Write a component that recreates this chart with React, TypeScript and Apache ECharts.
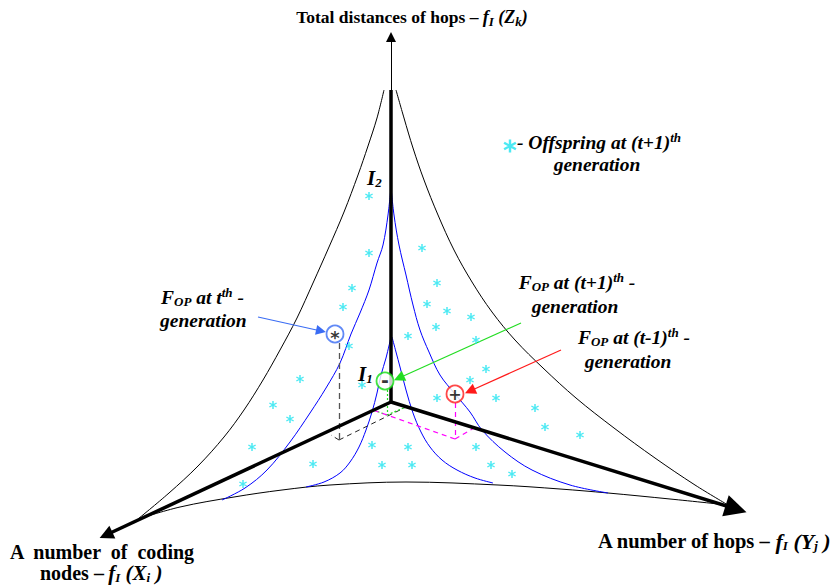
import React, { useEffect, useRef } from "react";
import * as echarts from "echarts";

const SERIF = "Liberation Serif";

// ---- straight axis segments of the 3-objective space (diagram units = px-like, y downwards)
const axisUpThick = [[391, 402], [391, 90]];
const axisUpThin = [[391, 90], [391, 37]];
const axisLeft = [[391, 402], [106, 535]];
const axisRight = [[391, 402], [736, 509]];

// ---- curved borders of the Pareto surface (black)
const outerLeftCurve = [[384, 90], [377, 118], [368, 146], [358, 175], [344, 212], [329, 247], [313, 283], [297, 318], [280, 350], [263, 380], [244, 410], [224, 437], [198, 466], [169, 493], [138, 519]];
const outerRightCurve = [[396, 90], [404, 118], [413, 148], [424, 180], [438, 215], [454, 250], [472, 282], [492, 312], [515, 340], [543, 368], [576, 398], [614, 428], [655, 458], [695, 485], [728, 505]];
const bottomCurve = [[138, 519], [180, 507], [234, 497], [282, 490], [330, 485], [406, 482], [498, 485], [560, 489], [608, 493], [670, 499], [728, 505]];

// ---- blue level curves I2 (outer) and I1 (inner)
const blueOuterLeft = [[391, 187], [388, 215], [383, 245], [377, 263], [369, 290], [360, 313], [351, 334], [340, 363], [326, 388], [310, 413], [290, 442], [267, 470], [245, 488], [222, 500]];
const blueOuterRight = [[391, 187], [394, 215], [399, 245], [406, 275], [413, 305], [420, 330], [429, 352], [440, 375], [455, 394], [470, 412], [482, 430], [505, 452], [532, 470], [570, 485], [608, 493]];
const blueInnerLeft = [[391, 337], [386, 358], [381, 375], [377, 393], [372, 412], [366, 430], [359, 447], [350, 462], [340, 473], [324, 482], [306, 487]];
const blueInnerRight = [[392, 337], [396, 352], [400, 367], [406, 390], [413, 413], [421, 432], [430, 447], [442, 460], [457, 470], [475, 478], [493, 483]];

// ---- offspring at (t+1)th generation
const offspringStars = [
  [369, 196], [369, 253], [352, 288], [343, 307], [349, 346], [300, 379], [273, 405], [290, 419],
  [252, 447], [313, 464], [243, 484], [362, 385], [372, 445], [382, 465], [408, 447], [412, 465],
  [422, 248], [437, 283], [427, 304], [447, 311], [471, 317], [436, 327], [408, 336], [476, 340],
  [486, 369], [470, 380], [437, 398], [496, 398], [535, 408], [545, 427], [580, 435], [476, 447],
  [491, 465], [512, 474],
];
const legendStar = [[510, 146]];

// ---- F_OP points of the generations
const fopT = [[335, 334]];
const fopTPlus = [[385, 381]];
const fopTMinus = [[455, 394]];

// ---- projection guides
const guideBlackVertical = [[339, 343], [339, 440]];
const guideBlackDiag = [[[339, 440], [406, 407]], [[339, 440], [331, 435]]];
const guideGreen = [[[387, 390], [387, 415]], [[387, 415], [373, 410]], [[387, 415], [406, 407]]];
const guideMagenta = [[[455, 403], [455, 439]], [[455, 439], [373, 410]], [[455, 439], [474, 428]]];

// ---- pointer arrows
const arrowBlue = [[258, 317], [321, 331]];
const arrowGreen = [[521, 323], [399, 378]];
const arrowRed = [[561, 350], [470, 391]];

const STAR_PATH =
  "path://M8.4,1 L11.6,1 L11.6,19 L8.4,19 Z M1.41,6.89 L3.01,4.11 L18.59,13.11 L16.99,15.89 Z M16.99,4.11 L18.59,6.89 L3.01,15.89 L1.41,13.11 Z";

const CYAN = "#1fe3f0";

function curve(data: number[][], color: string, width: number, z = 2) {
  return {
    type: "line",
    data,
    smooth: 0.35,
    symbol: "none",
    z,
    lineStyle: { color, width },
    silent: true,
  };
}

function segs(list: number[][][], color: string, width: number, type: any, z = 3) {
  return {
    type: "lines",
    coordinateSystem: "cartesian2d",
    z,
    silent: true,
    symbol: "none",
    data: list.map((c) => ({ coords: c })),
    lineStyle: { color, width, type, opacity: 1, curveness: 0 },
  };
}

function arrow(c: number[][], color: string, width: number, size: number, z = 5) {
  return {
    type: "lines",
    coordinateSystem: "cartesian2d",
    z,
    silent: true,
    symbol: ["none", "triangle"],
    symbolSize: [0, size],
    data: [{ coords: c }],
    lineStyle: { color, width, opacity: 1, curveness: 0 },
    itemStyle: { color },
  };
}

function marker(d: number[][], color: string, glyph: string, glyphSize: number, dy: number) {
  return {
    type: "scatter",
    data: d,
    z: 8,
    symbol: "circle",
    symbolSize: 17,
    itemStyle: { color: "#ffffff", borderColor: color, borderWidth: 1.8 },
    label: {
      show: true,
      position: "inside",
      formatter: glyph,
      color: "#000",
      fontFamily: "DejaVu Sans",
      fontWeight: "bold",
      fontSize: glyphSize,
      offset: [0, dy],
    },
  };
}

const base = { fontFamily: SERIF, fontWeight: "bold", fill: "#000" };
const richAnn = {
  i: { ...base, fontStyle: "italic", fontSize: 19.5, lineHeight: 22 },
  m: { ...base, fontStyle: "italic", fontSize: 18, lineHeight: 22 },
  mb: { ...base, fontStyle: "italic", fontSize: 21, lineHeight: 22 },
  mr: { ...base, fontStyle: "italic", fontSize: 22, lineHeight: 22 },
  b: { ...base, fontSize: 17.5, lineHeight: 22 },
  bb: { ...base, fontSize: 20, lineHeight: 22 },
  br: { ...base, fontSize: 20.5, lineHeight: 22 },
  big: { ...base, fontStyle: "italic", fontSize: 21, lineHeight: 22 },
  sub: { ...base, fontStyle: "italic", fontSize: 13, lineHeight: 12, verticalAlign: "bottom" },
  sup: { ...base, fontStyle: "italic", fontSize: 13, lineHeight: 12, verticalAlign: "top" },
};

function txt(x: number, y: number, text: string, align: string) {
  return {
    type: "text",
    x,
    y,
    z: 20,
    style: {
      text,
      rich: richAnn,
      align,
      textAlign: align,
      verticalAlign: "middle",
      textVerticalAlign: "middle",
      fontFamily: SERIF,
      fontWeight: "bold",
      fontSize: 17.5,
      fill: "#000",
    },
  };
}

export default function App() {
  const ref = useRef<HTMLDivElement>(null);
  useEffect(() => {
    if (!ref.current) return;
    const chart = echarts.init(ref.current, undefined, { renderer: "svg" });
    chart.setOption({
      animation: false,
      backgroundColor: "#ffffff",
      grid: { left: 0, right: 0, top: 0, bottom: 0 },
      xAxis: { type: "value", min: 0, max: 840, show: false },
      yAxis: { type: "value", min: 0, max: 587, inverse: true, show: false },
      series: [
        curve(outerLeftCurve, "#000", 1),
        curve(outerRightCurve, "#000", 1),
        curve(bottomCurve, "#000", 1),
        curve(blueOuterLeft, "#0000ff", 1),
        curve(blueOuterRight, "#0000ff", 1),
        curve(blueInnerLeft, "#0000ff", 1),
        curve(blueInnerRight, "#0000ff", 1),
        segs([guideBlackVertical], "#555555", 1.3, [6, 4]),
        segs(guideBlackDiag, "#222222", 1, [5, 4]),
        segs(guideGreen, "#22dd22", 1.2, [2, 2]),
        segs(guideMagenta, "#ff00ff", 1.2, [5, 4]),
        segs([axisUpThick], "#000", 3.5, "solid", 6),
        arrow(axisUpThin, "#000", 1, 10, 6),
        arrow(axisLeft, "#000", 3.5, 14, 6),
        arrow(axisRight, "#000", 3.5, 22, 6),
        arrow(arrowBlue, "#3a6cf4", 1.2, 10),
        arrow(arrowGreen, "#22dd22", 1.2, 11),
        arrow(arrowRed, "#ff1a1a", 1.2, 11),
        {
          type: "scatter",
          data: offspringStars,
          z: 7,
          symbol: STAR_PATH,
          symbolSize: 8,
          itemStyle: { color: CYAN },
        },
        {
          type: "scatter",
          data: legendStar,
          z: 7,
          symbol: STAR_PATH,
          symbolSize: 13,
          itemStyle: { color: CYAN },
        },
        marker(fopT, "#3a6cf4", "*", 18, 3),
        marker(fopTPlus, "#11dd11", "-", 19, -1),
        marker(fopTMinus, "#ff1a1a", "+", 16, 0),
      ],
      graphic: [
        txt(412, 17, "{b|Total distances of hops –} {m|f}{sub|I}{m| (Z}{sub|k}{m|)}", "center"),
        txt(517, 142, "{i|- Offspring at (t+1)}{sup|th}", "left"),
        txt(597, 164, "{i|generation}", "center"),
        txt(161, 297, "{i|F}{sub|OP}{i| at t}{sup|th}{i| -}", "left"),
        txt(160, 320, "{i|generation}", "left"),
        txt(577, 282, "{i|F}{sub|OP}{i| at (t+1)}{sup|th}{i| -}", "center"),
        txt(575, 306, "{i|generation}", "center"),
        txt(634, 337, "{i|F}{sub|OP}{i| at (t-1)}{sup|th}{i| -}", "center"),
        txt(628, 361, "{i|generation}", "center"),
        txt(367, 178, "{big|I}{sub|2}", "left"),
        txt(358, 374, "{big|I}{sub|1}", "left"),
        txt(598, 541, "{br|A number of hops –} {mr|f}{sub|I}{mr| (Y}{sub|j}{mr| )}", "left"),
        txt(10, 552, "{bb|A  number  of  coding}", "left"),
        txt(40, 573, "{bb|nodes –} {mb|f}{sub|I}{mb| (X}{sub|i}{mb| )}", "left"),
      ],
    });
    return () => chart.dispose();
  }, []);
  return (
    <div
      ref={ref}
      style={{ position: "fixed", left: 0, top: 0, width: 840, height: 587, background: "#fff" }}
    />
  );
}
